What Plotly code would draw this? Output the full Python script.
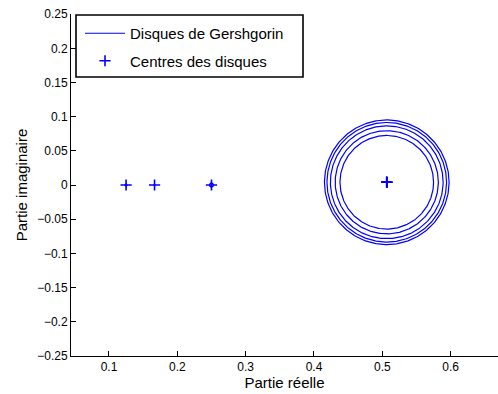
import numpy as np
import plotly.graph_objects as go

# Disk data (centers: real, imag; radii)
centre_re = [0.125, 1/6, 0.25, 0.5065, 0.5065, 0.5065, 0.5065, 0.5065]
centre_im = [0.0, 0.0, 0.0, 0.004, 0.004, 0.004, 0.004, 0.004]
rayons = [0.0015, 0.001, 0.003, 0.0685, 0.0755, 0.0825, 0.0875, 0.0912]

x_tickvals = [0.1, 0.2, 0.3, 0.4, 0.5, 0.6]
x_ticktext = ["0.1", "0.2", "0.3", "0.4", "0.5", "0.6"]
y_tickvals = [-0.25, -0.2, -0.15, -0.1, -0.05, 0, 0.05, 0.1, 0.15, 0.2, 0.25]
y_ticktext = ["\u22120.25", "\u22120.2", "\u22120.15", "\u22120.1", "\u22120.05", "0",
              "0.05", "0.1", "0.15", "0.2", "0.25"]

t = np.linspace(0, 2 * np.pi, 361)
cx, cy = [], []
for xr, yi, r in zip(centre_re, centre_im, rayons):
    cx += list(xr + r * np.cos(t)) + [None]
    cy += list(yi + r * np.sin(t)) + [None]

BLUE = "rgb(0,0,255)"
fig = go.Figure()
fig.add_trace(go.Scatter(x=cx, y=cy, mode="lines", name="Disques de Gershgorin",
                         legendgroup="g1",
                         line=dict(color=BLUE, width=1.2)))
fig.add_trace(go.Scatter(x=centre_re, y=centre_im, mode="markers", name="Centres des disques",
                         legendgroup="g2",
                         marker=dict(symbol="cross-thin", size=8, color=BLUE,
                                     line=dict(color=BLUE, width=1.6))))

W, H = 498, 394
L, R, T, B = 71, 0, 14, 38
pw, ph = W - L - R, H - T - B

def px(x):  # screen x -> paper
    return (x - L) / pw

def py(y):  # screen y -> paper
    return (H - B - y) / ph

font = "Liberation Sans, Arial, Helvetica, sans-serif"
fig.update_layout(
    width=W, height=H,
    margin=dict(l=L, r=R, t=T, b=B, pad=0),
    paper_bgcolor="white", plot_bgcolor="white",
    font=dict(family=font, size=12, color="black"),
    showlegend=True,
    legend=dict(x=px(80), y=py(17), xanchor="left", yanchor="top",
                bgcolor="rgba(255,255,255,0)", borderwidth=0,
                font=dict(size=15), tracegroupgap=5, itemwidth=40),
    xaxis=dict(range=[0.0444, 0.6693], tickvals=x_tickvals, ticktext=x_ticktext,
               ticks="inside", ticklen=5, tickcolor="black", showline=True,
               linecolor="black", linewidth=1, showgrid=False, zeroline=False,
               title=dict(text="Partie réelle", font=dict(size=15), standoff=3),
               tickfont=dict(size=12)),
    yaxis=dict(range=[-0.2503, 0.2503], tickvals=y_tickvals, ticktext=y_ticktext,
               ticks="inside", ticklen=5, tickcolor="black", showline=True,
               linecolor="black", linewidth=1, showgrid=False, zeroline=False,
               title=dict(text="Partie imaginaire", font=dict(size=15), standoff=5),
               tickfont=dict(size=12)),
    shapes=[dict(type="rect", xref="paper", yref="paper",
                 x0=px(76), x1=px(303), y0=py(77), y1=py(15),
                 line=dict(color="black", width=1.6), fillcolor="rgba(0,0,0,0)")],
)

fig.write_html("out.html", config={"displayModeBar": False},
               post_script="document.body.style.margin='0';document.body.style.padding='0';")
